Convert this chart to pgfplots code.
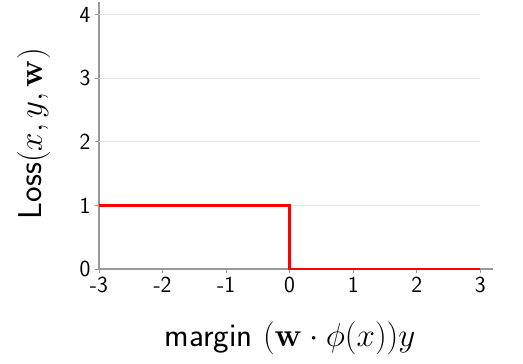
\RequirePackage{fix-cm}
\documentclass[border=0pt]{standalone}
\usepackage{pgfplots}
\pgfplotsset{compat=1.18}
\renewcommand{\familydefault}{\sfdefault}
\definecolor{axgray}{HTML}{999999}
\definecolor{gridgray}{HTML}{E3E3E3}
\begin{document}
\begin{tikzpicture}
\begin{axis}[
  scale only axis, width=394pt, height=267pt,
  xmin=-3, xmax=3.2, ymin=0, ymax=4.2,
  axis x line=bottom, axis y line=left,
  axis line style={-, axgray, line width=1.3pt},
  xtick={-3,-2,-1,0,1,2,3}, ytick={0,1,2,3,4},
  xticklabels={-3,-2,-1,0,1,2,3},
  yticklabels={0,1,2,3,4},
  tick style={axgray, line width=0.8pt},
  tick align=outside, major tick length=4pt,
  ticklabel style={font=\fontsize{23}{23}\selectfont},
  xticklabel style={yshift=-1pt},
  yticklabel style={xshift=-1pt},
  xlabel={margin~$(\mathbf{w}\cdot\phi(x))y$},
  ylabel={Loss$(x,y,\mathbf{w})$},
  label style={font=\fontsize{33}{33}\selectfont},
  xlabel style={at={([xshift=-6pt,yshift=-78pt]axis description cs:0.5,0)}, anchor=base},
  ylabel style={at={([xshift=-57pt,yshift=2pt]axis description cs:0,0.5)}, anchor=base},
  clip=false,
]
\coordinate (O) at (rel axis cs:0,0);
\addplot[gridgray, line width=1.2pt] coordinates {(-3,1)(3,1)};
\addplot[gridgray, line width=1.2pt] coordinates {(-3,2)(3,2)};
\addplot[gridgray, line width=1.2pt] coordinates {(-3,3)(3,3)};
\addplot[gridgray, line width=1.2pt] coordinates {(-3,4)(3,4)};
\addplot[red, line width=2.6pt] coordinates {(-3,1)(0,1)(0,0)(3,0)};
\end{axis}
\pgfresetboundingbox
\path ([shift={(-99pt,-95pt)}]O) rectangle ([shift={(424pt,269pt)}]O);
\end{tikzpicture}
\end{document}
